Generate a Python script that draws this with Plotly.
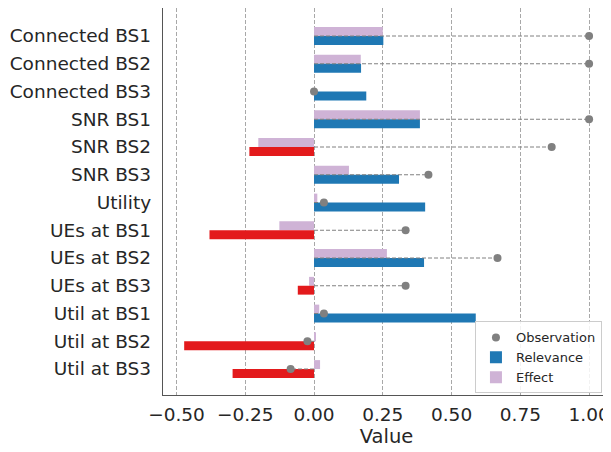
import plotly.graph_objects as go

categories = ["Connected BS1", "Connected BS2", "Connected BS3", "SNR BS1", "SNR BS2",
              "SNR BS3", "Utility", "UEs at BS1", "UEs at BS2", "UEs at BS3",
              "Util at BS1", "Util at BS2", "Util at BS3"]
relevance = [0.252, 0.171, 0.19, 0.385, -0.235, 0.309, 0.404, -0.38, 0.40, -0.059, 0.588, -0.472, -0.296]
effect = [0.25, 0.17, 0.0, 0.385, -0.2025, 0.127, 0.012, -0.126, 0.265, -0.018, 0.019, 0.007, 0.022]
observation = [1.0, 1.0, 0.0, 1.0, 0.864, 0.416, 0.036, 0.333, 0.667, 0.333, 0.036, -0.024, -0.085]
x_ticks = [-0.5, -0.25, 0.0, 0.25, 0.5, 0.75, 1.0]

BLUE = "#1f78b4"
RED = "#e31a1c"
PURPLE = "#cfb3d6"
GREY = "#808080"
TXT = "#262626"
FONT = "DejaVu Sans"

rel_colors = [BLUE if v >= 0 else RED for v in relevance]

# dashed connector lines from 0 to observation
lx, ly = [], []
for c, o in zip(categories, observation):
    lx += [0, o, None]
    ly += [c, c, None]

fig = go.Figure()
fig.add_trace(go.Bar(
    y=categories, x=effect, orientation="h", name="Effect",
    marker=dict(color=PURPLE, line=dict(width=0)),
    width=0.32, offset=-0.32, legendrank=3,
))
fig.add_trace(go.Bar(
    y=categories, x=relevance, orientation="h", name="Relevance",
    marker=dict(color=rel_colors, line=dict(width=0)),
    width=0.32, offset=0.0, legendrank=2,
))
fig.add_trace(go.Scatter(
    x=lx, y=ly, mode="lines", showlegend=False, hoverinfo="skip",
    line=dict(color=GREY, width=1, dash="4px,2px"),
))
fig.add_trace(go.Scatter(
    x=observation, y=categories, mode="markers", name="Observation",
    marker=dict(color=GREY, size=8), legendrank=1,
))

# page body has an 8px margin: figure is sized/placed to compensate
fig.update_layout(
    width=603, height=444,
    margin=dict(l=155, r=1, t=0, b=57),
    barmode="overlay",
    plot_bgcolor="white", paper_bgcolor="white",
    font=dict(family=FONT, color=TXT, size=18),
    legend=dict(
        x=0.982, y=0.004, xanchor="right", yanchor="bottom",
        bgcolor="rgba(255,255,255,0.85)", bordercolor="#cccccc", borderwidth=1,
        font=dict(size=13, family=FONT, color=TXT),
        traceorder="normal",
    ),
    xaxis=dict(
        range=[-0.549, 1.076], tickvals=x_ticks, tickformat=".2f",
        showgrid=True, gridcolor="#a8a8a8", gridwidth=1, griddash="4px,2px",
        zeroline=False, showline=True, linecolor="#555555", linewidth=1.4,
        ticks="", tickfont=dict(size=18.5), ticklabelstandoff=3, automargin=False,
        title=dict(text="Value", font=dict(size=19.5), standoff=2),
    ),
    yaxis=dict(
        type="category", categoryorder="array", categoryarray=categories,
        range=[12.937, -1.009], showgrid=False, zeroline=False,
        showline=True, linecolor="#555555", linewidth=1.4, ticks="",
        tickfont=dict(size=18.5), ticklabelstandoff=7, automargin=False,
    ),
)

fig.write_html("out.html")
